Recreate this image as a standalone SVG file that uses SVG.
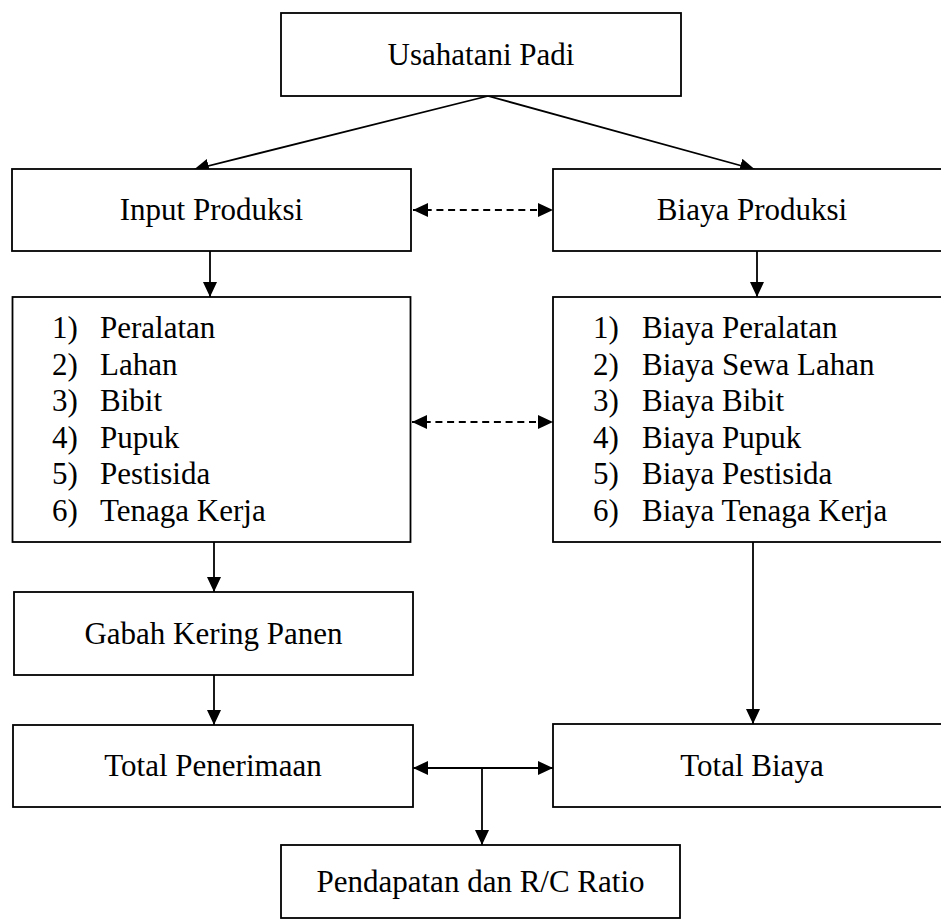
<svg xmlns="http://www.w3.org/2000/svg" width="941" height="923" viewBox="0 0 941 923">
<defs>
<style>
.box{fill:#fff;stroke:#000;stroke-width:1.8}
.t{font-family:"Liberation Serif","Times New Roman",serif;font-size:31px;fill:#000}
.c{text-anchor:middle}
.ln{stroke:#000;stroke-width:1.8;fill:none}
.dash{stroke-dasharray:7 4.7}
</style>
<marker id="ah" viewBox="0 0 15 14" refX="15" refY="7" markerWidth="15" markerHeight="14" markerUnits="userSpaceOnUse" orient="auto-start-reverse">
<path d="M0,0 L15,7 L0,14 Z" fill="#000"/>
</marker>
</defs>
<rect width="941" height="923" fill="#fff"/>
<g id="connectors">
<line class="ln" x1="488" y1="96" x2="194" y2="169.5" marker-end="url(#ah)"/>
<line class="ln" x1="488" y1="96" x2="755" y2="169.5" marker-end="url(#ah)"/>
<line class="ln dash" x1="413" y1="210" x2="553" y2="210" marker-start="url(#ah)" marker-end="url(#ah)"/>
<line class="ln" x1="210" y1="251" x2="210" y2="297" marker-end="url(#ah)"/>
<line class="ln" x1="757" y1="251" x2="757" y2="297" marker-end="url(#ah)"/>
<line class="ln dash" x1="412" y1="422" x2="553" y2="422" marker-start="url(#ah)" marker-end="url(#ah)"/>
<line class="ln" x1="214" y1="542" x2="214" y2="592" marker-end="url(#ah)"/>
<line class="ln" x1="214" y1="675" x2="214" y2="725" marker-end="url(#ah)"/>
<line class="ln" x1="753" y1="542" x2="753" y2="724" marker-end="url(#ah)"/>
<line class="ln" x1="413" y1="768" x2="553" y2="768" marker-start="url(#ah)" marker-end="url(#ah)"/>
<line class="ln" x1="482" y1="768" x2="482" y2="845" marker-end="url(#ah)"/>
</g>
<g id="usahatani">
<rect class="box" x="281" y="13" width="400" height="83"/>
<text class="t c" x="481" y="65">Usahatani Padi</text>
</g>
<g id="input-produksi">
<rect class="box" x="12" y="169" width="399" height="82"/>
<text class="t c" x="211.5" y="220">Input Produksi</text>
</g>
<g id="biaya-produksi">
<rect class="box" x="553" y="169" width="399" height="82"/>
<text class="t c" x="752" y="220">Biaya Produksi</text>
</g>
<g id="input-list">
<rect class="box" x="12.5" y="297" width="398" height="245"/>
<text class="t" x="52" y="338">1)</text><text class="t" x="100" y="338">Peralatan</text>
<text class="t" x="52" y="374.6">2)</text><text class="t" x="100" y="374.6">Lahan</text>
<text class="t" x="52" y="411.2">3)</text><text class="t" x="100" y="411.2">Bibit</text>
<text class="t" x="52" y="447.8">4)</text><text class="t" x="100" y="447.8">Pupuk</text>
<text class="t" x="52" y="484.4">5)</text><text class="t" x="100" y="484.4">Pestisida</text>
<text class="t" x="52" y="521">6)</text><text class="t" x="100" y="521">Tenaga Kerja</text>
</g>
<g id="biaya-list">
<rect class="box" x="553" y="297" width="399" height="245"/>
<text class="t" x="593" y="338">1)</text><text class="t" x="642" y="338">Biaya Peralatan</text>
<text class="t" x="593" y="374.6">2)</text><text class="t" x="642" y="374.6">Biaya Sewa Lahan</text>
<text class="t" x="593" y="411.2">3)</text><text class="t" x="642" y="411.2">Biaya Bibit</text>
<text class="t" x="593" y="447.8">4)</text><text class="t" x="642" y="447.8">Biaya Pupuk</text>
<text class="t" x="593" y="484.4">5)</text><text class="t" x="642" y="484.4">Biaya Pestisida</text>
<text class="t" x="593" y="521">6)</text><text class="t" x="642" y="521">Biaya Tenaga Kerja</text>
</g>
<g id="gabah">
<rect class="box" x="14" y="592" width="399" height="83"/>
<text class="t c" x="213.5" y="644">Gabah Kering Panen</text>
</g>
<g id="total-penerimaan">
<rect class="box" x="13" y="725" width="400" height="82"/>
<text class="t c" x="213" y="776">Total Penerimaan</text>
</g>
<g id="total-biaya">
<rect class="box" x="553" y="724" width="399" height="83"/>
<text class="t c" x="752" y="776">Total Biaya</text>
</g>
<g id="pendapatan">
<rect class="box" x="281" y="845" width="399" height="73"/>
<text class="t c" x="480.5" y="892">Pendapatan dan R/C Ratio</text>
</g>
</svg>
